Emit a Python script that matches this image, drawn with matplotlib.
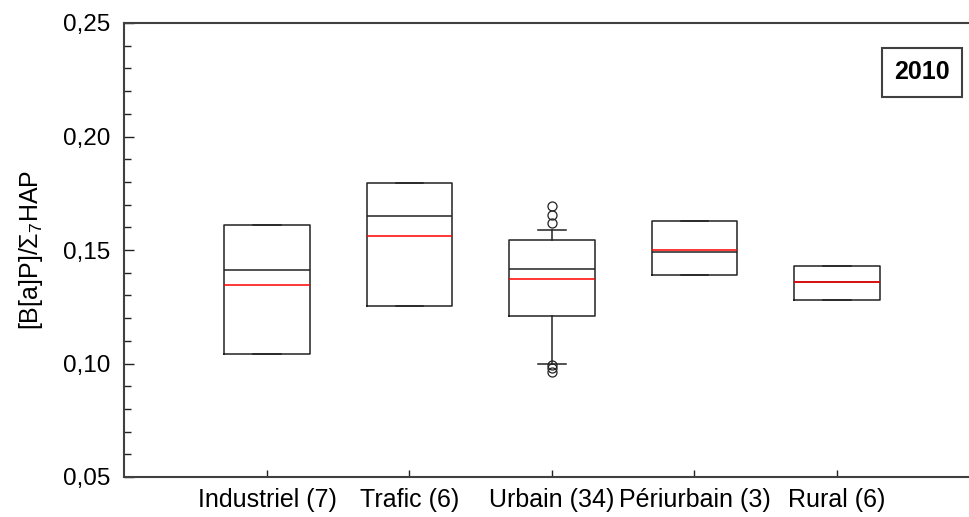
import matplotlib
matplotlib.use("Agg")
import matplotlib.pyplot as plt
from matplotlib.ticker import FuncFormatter, MultipleLocator

plt.rcParams.update({"font.family": ["Liberation Sans", "DejaVu Sans"],
                     "mathtext.fontset": "custom",
                     "mathtext.rm": "Liberation Sans",
                     "mathtext.it": "Liberation Sans:italic"})

INK = "#222222"
RED = "#ff0000"

labels = ["Industriel (7)", "Trafic (6)", "Urbain (34)", "Périurbain (3)", "Rural (6)"]
q1 = [0.1042, 0.1253, 0.1208, 0.1389, 0.1278]
med = [0.1412, 0.1650, 0.1418, 0.1490, 0.1360]
q3 = [0.1610, 0.1795, 0.1543, 0.1629, 0.1430]
mean = [0.1346, 0.1562, 0.1372, 0.1500, 0.1360]
whislo = [0.1042, 0.1253, 0.0996, 0.1389, 0.1278]
whishi = [0.1610, 0.1795, 0.1588, 0.1629, 0.1430]
fliers = [[], [], [0.1695, 0.1654, 0.1618, 0.0995, 0.0978, 0.0963], [], []]

stats = [dict(label=l, q1=a, med=m, q3=b, mean=mu, whislo=lo, whishi=hi, fliers=f)
         for l, a, m, b, mu, lo, hi, f in zip(labels, q1, med, q3, mean,
                                               whislo, whishi, fliers)]

fig = plt.figure(figsize=(9.7, 5.17), dpi=100)
ax = fig.add_axes([124.5 / 970, 1 - 477 / 517, 855 / 970, 454 / 517])

ax.bxp(stats, positions=range(1, 6), widths=0.6, showmeans=True, meanline=True,
       boxprops=dict(color=INK, lw=1.1),
       medianprops=dict(color=INK, lw=1.1),
       meanprops=dict(color=RED, lw=1.1, linestyle="-"),
       whiskerprops=dict(color=INK, lw=1.1),
       capprops=dict(color=INK, lw=1.1), capwidths=0.19,
       flierprops=dict(marker="o", markersize=6.5, markerfacecolor="none",
                       markeredgecolor=INK, markeredgewidth=0.9))

ax.set_xlim(0, 6)
ax.set_ylim(0.05, 0.25)
ax.yaxis.set_major_locator(MultipleLocator(0.05))
ax.yaxis.set_minor_locator(MultipleLocator(0.01))
ax.yaxis.set_major_formatter(FuncFormatter(lambda v, _: f"{v:.2f}".replace(".", ",")))
ax.tick_params(axis="y", direction="in", length=7, width=1, color=INK,
               labelsize=17.5, pad=10)
ax.tick_params(axis="y", which="minor", direction="in", length=5, width=1, color=INK)
ax.tick_params(axis="x", direction="in", length=5, width=1, color=INK,
               labelsize=18, pad=8)
for s in ax.spines.values():
    s.set_color("#404040")
    s.set_linewidth(1.5)

ax.set_ylabel(r"[B[a]P]/$\mathit{\Sigma_7}$HAP", fontsize=18, labelpad=13)

fig.text(922 / 970, 1 - 72 / 517, "2010", fontsize=18, fontweight="bold",
         ha="center", va="center",
         bbox=dict(boxstyle="square,pad=0.5", fc="white", ec="#404040", lw=1.5))

fig.savefig("out.png", dpi=100)
